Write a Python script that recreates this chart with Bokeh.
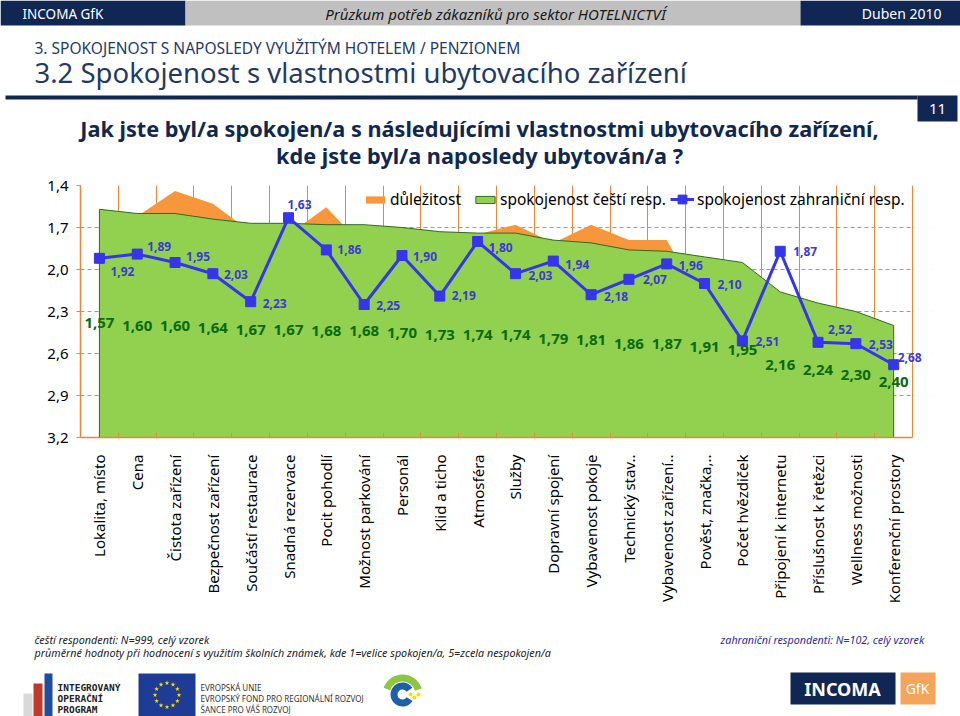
import math
import numpy as np
from bokeh.plotting import figure
from bokeh.models import (Range1d, FixedTicker, CustomJSTickFormatter, Legend, LegendItem,
                          LabelSet, ColumnDataSource)
from bokeh.layouts import column
from bokeh.embed import file_html
from bokeh.resources import INLINE
from bokeh.core.properties import value

# ---------------- data ----------------
categories = ["Lokalita, místo", "Cena", "Čistota zařízení", "Bezpečnost zařízení",
              "Součástí restaurace", "Snadná rezervace", "Pocit pohodlí", "Možnost parkování",
              "Personál", "Klid a ticho", "Atmosféra", "Služby", "Dopravní spojení",
              "Vybavenost pokoje", "Technický stav..", "Vybavenost zařízení..",
              "Pověst, značka,..", "Počet hvězdiček", "Připojení k internetu",
              "Příslušnost k řetězci", "Wellness možnosti", "Konferenční prostory"]
importance = [1.70, 1.62, 1.44, 1.53, 1.73, 1.75, 1.555, 1.84, 1.85, 1.86, 1.75,
              1.68, 1.81, 1.68, 1.79, 1.79, 2.27, 2.30, 2.45, 2.55, 2.60, 2.75]
czech = [1.57, 1.60, 1.60, 1.64, 1.67, 1.67, 1.68, 1.68, 1.70, 1.73, 1.74,
         1.74, 1.79, 1.81, 1.86, 1.87, 1.91, 1.95, 2.16, 2.24, 2.30, 2.40]
foreign = [1.92, 1.89, 1.95, 2.03, 2.23, 1.63, 1.86, 2.25, 1.90, 2.19, 1.80,
           2.03, 1.94, 2.18, 2.07, 1.96, 2.10, 2.51, 1.87, 2.52, 2.53, 2.68]
y_ticks = [1.4, 1.7, 2.0, 2.3, 2.6, 2.9, 3.2]

# ---------------- styles ----------------
NAVY = "#0F2752"
TITLE_BLUE = "#1F3B64"
ORANGE_GRID = "#E8873A"
ORANGE_AREA = "#F7963A"
GREEN_AREA = "#92D050"
GREEN_LINE = "#2E6B1E"
BLUE = "#3535EE"
BLUE_TXT = "#3A3AD6"
GREEN_TXT = "#0A6A0A"
FONT = "Noto Sans"
# label placement (screen px, + = right / down) for the foreign-respondent labels
LABEL_DX = [11, 10, 11, 11, 12, -1, 11, 12, 11, 12, 11, 13, 12, 13, 14, 12, 13, 13, 13, 10, 13, 4]
LABEL_DY = [13, -8, -6, 1, 2, -13, 0, 1, 1, -1, 6, 2, 3, 2, 0, 2, 1, 1, 0, -13, 1, -7]


def fmt(v):
    return f"{v:.2f}".replace(".", ",")


def txt(fig, x, y, s, size, color, font=FONT, style="normal", align="left", baseline="middle"):
    fig.text(x=[x], y=[y], text=[s], text_font=value(font), text_font_size=size,
             text_color=color, text_font_style=style, text_align=align,
             text_baseline=baseline)


def deco_fig(h, y0):
    f = figure(width=960, height=h, x_range=Range1d(0, 960), y_range=Range1d(y0 + h, y0),
               x_axis_type=None, y_axis_type=None, min_border=0, outline_line_color=None,
               toolbar_location=None, output_backend="svg", background_fill_color="white",
               border_fill_color="white")
    f.frame_align = False
    return f


# ---------------- header ----------------
hdr = deco_fig(170, 0)
hdr.quad(left=[0, 185, 800], right=[185, 800, 960], top=[0, 0, 0], bottom=[25, 25, 25],
         fill_color=[NAVY, "#C0C0C0", NAVY], line_color=None)
txt(hdr, 22, 13, "INCOMA GfK", "13.5px", "white")
txt(hdr, 495, 13, "Průzkum potřeb zákazníků pro sektor HOTELNICTVÍ", "15px", "#1A1A1A",
    style="italic", align="center")
txt(hdr, 941, 13, "Duben 2010", "14px", "white", align="right")
txt(hdr, 34, 47, "3. SPOKOJENOST S NAPOSLEDY VYUŽITÝM HOTELEM / PENZIONEM", "15.5px",
    TITLE_BLUE)
txt(hdr, 34, 72, "3.2 Spokojenost s vlastnostmi ubytovacího zařízení", "27.5px", TITLE_BLUE)
hdr.quad(left=[5, 917], right=[917, 957], top=[95, 95], bottom=[99, 121],
         fill_color=NAVY, line_color=None)
txt(hdr, 937, 108, "11", "15px", "white", align="center")
txt(hdr, 479, 128, "Jak jste byl/a spokojen/a s následujícími vlastnostmi ubytovacího zařízení,",
    "21.7px", "#10284F", style="bold", align="center")
txt(hdr, 479, 155, "kde jste byl/a naposledy ubytován/a ?", "21.7px", "#10284F",
    style="bold", align="center")

# ---------------- chart ----------------
n = len(categories)
idx = list(range(n))
x_end = n - 0.5          # right edge of the category area
x_pad = 0.5              # room right of the frame edge for the last label
p = figure(width=960, height=450, x_range=Range1d(-0.5, x_end + x_pad),
           y_range=Range1d(y_ticks[-1], y_ticks[0]),
           output_backend="svg", toolbar_location=None,
           min_border_left=80, min_border_right=29, min_border_top=15, min_border_bottom=183,
           outline_line_color=None, background_fill_color="white", border_fill_color="white")
p.frame_align = False

base = y_ticks[-1]
imp_r = p.patch(x=[0] + idx + [n - 1], y=[base] + importance + [base],
                fill_color=ORANGE_AREA, line_color=None)
cz_r = p.patch(x=[0] + idx + [n - 1], y=[base] + czech + [base],
               fill_color=GREEN_AREA, line_color=GREEN_LINE, line_width=1)
# white mask right of the plot-area edge (hides the grid there)
p.quad(left=[x_end + 0.03], right=[x_end + x_pad], top=[y_ticks[0]], bottom=[y_ticks[-1]],
       fill_color="white", line_color=None)
fl_r = p.line(x=idx, y=foreign, line_color=BLUE, line_width=3)
fm_r = p.scatter(x=idx, y=foreign, marker="square", size=10, fill_color=BLUE, line_color=BLUE)

p.text(x=idx, y=[(v + base) / 2 for v in czech], text=[fmt(v) for v in czech],
       text_font=value(FONT), text_font_style="bold", text_font_size="15px",
       text_color=GREEN_TXT, text_align="center", text_baseline="middle")
blue_src = ColumnDataSource(dict(x=idx, y=foreign, t=[fmt(v) for v in foreign],
                                 dx=LABEL_DX, dy=[-d for d in LABEL_DY]))
p.add_layout(LabelSet(x="x", y="y", text="t", x_offset="dx", y_offset="dy", source=blue_src,
                      text_font=value(FONT), text_font_style="bold", text_font_size="12px",
                      text_color=BLUE_TXT, text_align="left", text_baseline="middle"))

# axes
p.xaxis.ticker = FixedTicker(ticks=idx, minor_ticks=[i + 0.5 for i in range(-1, n)])
p.xaxis.major_label_overrides = {i: c for i, c in enumerate(categories)}
p.xaxis.major_label_orientation = math.pi / 2
p.xaxis.major_tick_line_color = None
p.xaxis.major_tick_in = 0
p.xaxis.major_tick_out = 0
p.xaxis.minor_tick_in = 5
p.xaxis.minor_tick_out = 0
p.xaxis.minor_tick_line_color = ORANGE_GRID
p.xaxis.major_label_standoff = 17
p.xaxis.major_label_text_font = FONT
p.xaxis.major_label_text_font_size = "15px"
p.xaxis.major_label_text_color = "black"
p.xaxis.axis_line_color = ORANGE_GRID
p.xaxis.axis_line_width = 1.5
p.xaxis.bounds = (-0.5, x_end)

p.yaxis.ticker = FixedTicker(ticks=y_ticks)
p.yaxis.formatter = CustomJSTickFormatter(code="return tick.toFixed(1).replace('.', ',');")
p.yaxis.major_tick_in = 0
p.yaxis.major_tick_out = 4
p.yaxis.major_tick_line_color = ORANGE_GRID
p.yaxis.minor_tick_line_color = None
p.yaxis.major_label_standoff = 8
p.yaxis.major_label_text_font = FONT
p.yaxis.major_label_text_font_size = "15px"
p.yaxis.major_label_text_color = "black"
p.yaxis.axis_line_color = ORANGE_GRID
p.yaxis.axis_line_width = 1.5

p.xgrid.ticker = FixedTicker(ticks=[i + 0.5 for i in range(-1, n)])
p.xgrid.grid_line_color = ORANGE_GRID
p.xgrid.grid_line_width = 1
p.ygrid.grid_line_color = ORANGE_GRID
p.ygrid.grid_line_dash = "4 3"
p.ygrid.grid_line_width = 1

leg_common = dict(orientation="horizontal", background_fill_alpha=0, border_line_alpha=0,
                  padding=0, margin=0, spacing=12, label_standoff=3, glyph_width=24,
                  label_text_font=FONT, label_text_font_size="15.5px", label_text_color="black",
                  label_height=16)
leg1 = Legend(items=[LegendItem(label="důležitost", renderers=[imp_r]),
                     LegendItem(label="spokojenost čeští resp.", renderers=[cz_r])],
              location=(283, 227), glyph_height=9, **leg_common)
leg2 = Legend(items=[LegendItem(label="spokojenost zahraniční resp.", renderers=[fl_r, fm_r])],
              location=(590, 227), glyph_height=22, **leg_common)
p.add_layout(leg1)
p.add_layout(leg2)

# ---------------- footer ----------------
ftr = deco_fig(96, 620)
txt(ftr, 34, 639, "čeští respondenti: N=999, celý vzorek", "10.75px", "#222222", style="italic")
txt(ftr, 34, 652, "průměrné hodnoty při hodnocení s využitím školních známek, kde 1=velice spokojen/a, 5=zcela nespokojen/a",
    "10.75px", "#222222", style="italic")
txt(ftr, 720, 639, "zahraniční respondenti: N=102, celý vzorek", "10.75px", "#2B2BA0",
    style="italic")
# IOP logo
ftr.quad(left=[23, 33, 44], right=[32, 42, 52], top=[693, 683, 673], bottom=[716, 716, 716],
         fill_color=["#D9D9D9", "#C0392B", "#1F4E9C"], line_color=None)
for yy, s in zip([687, 698, 709], ["INTEGROVANÝ", "OPERAČNÍ", "PROGRAM"]):
    txt(ftr, 57, yy, s, "9.5px", "#222222", font="DejaVu Sans Mono", style="bold")
# EU flag
ftr.quad(left=[138], right=[195], top=[673], bottom=[716], fill_color="#1E3C96", line_color=None)
ang = np.linspace(0, 2 * np.pi, 13)[:-1]
ftr.scatter(x=166.5 + 12 * np.cos(ang), y=694.5 + 12 * np.sin(ang), marker="star", size=5,
            fill_color="#FFDD00", line_color=None)
for yy, s in zip([687, 698, 709], ["EVROPSKÁ UNIE", "EVROPSKÝ FOND PRO REGIONÁLNÍ ROZVOJ",
                                   "ŠANCE PRO VÁŠ ROZVOJ"]):
    txt(ftr, 200, yy, s, "8px", "#333333")
# Ministry logo (simplified)
ftr.annular_wedge(x=[402], y=[694], inner_radius=13, outer_radius=20, start_angle=0.3,
                  end_angle=2.8, fill_color="#8DC63F", line_color=None)
ftr.annular_wedge(x=[402], y=[694], inner_radius=5, outer_radius=12, start_angle=0.6,
                  end_angle=5.7, fill_color="#1F5FAA", line_color=None)
ftr.scatter(x=[410, 414, 418], y=[694, 697, 694], size=4, fill_color="#FFDD00", line_color=None)
# INCOMA GfK logo
ftr.quad(left=[790, 900], right=[895, 935], top=[672, 672], bottom=[704, 704],
         fill_color=[NAVY, "#F5A55A"], line_color=None)
txt(ftr, 842, 688, "INCOMA", "18px", "white", style="bold", align="center")
txt(ftr, 917, 688, "GfK", "14px", "white", align="center")

layout = column(hdr, p, ftr, spacing=0)
open("out.html", "w").write(file_html(layout, INLINE))
